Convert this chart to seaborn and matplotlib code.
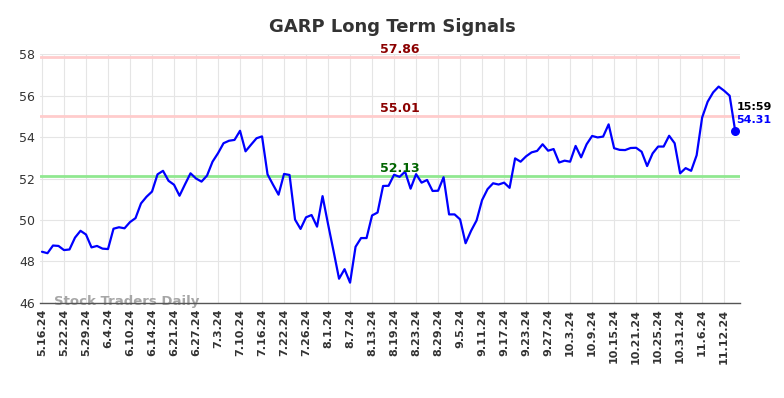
import matplotlib
matplotlib.use("Agg")
import matplotlib.pyplot as plt
import seaborn as sns
import pandas as pd

# daily signal values, 5.16.24 .. 11.14.24 (trading days)
values = [
    48.47, 48.40, 48.77, 48.75, 48.55, 48.58, 49.15, 49.48, 49.30, 48.68,
    48.75, 48.62, 48.60, 49.58, 49.65, 49.60, 49.90, 50.09, 50.80, 51.12,
    51.37, 52.20, 52.37, 51.89, 51.70, 51.17, 51.72, 52.25, 52.00, 51.85,
    52.14, 52.81, 53.22, 53.70, 53.82, 53.86, 54.30, 53.31, 53.63, 53.94,
    54.03, 52.20, 51.70, 51.22, 52.22, 52.17, 50.02, 49.57, 50.13, 50.24,
    49.68, 51.15, 49.80, 48.50, 47.17, 47.63, 46.98, 48.71, 49.13, 49.13,
    50.22, 50.36, 51.64, 51.65, 52.18, 52.08, 52.33, 51.51, 52.21, 51.80,
    51.93, 51.40, 51.41, 52.06, 50.27, 50.27, 50.03, 48.88, 49.48, 49.98,
    50.96, 51.49, 51.77, 51.71, 51.80, 51.55, 52.97, 52.81, 53.07, 53.26,
    53.33, 53.65, 53.34, 53.42, 52.77, 52.86, 52.81, 53.57, 53.02, 53.65,
    54.05, 53.98, 54.02, 54.61, 53.46, 53.38, 53.37, 53.47, 53.48, 53.29,
    52.60, 53.21, 53.54, 53.54, 54.06, 53.70, 52.25, 52.50, 52.37, 53.12,
    54.94, 55.70, 56.15, 56.43, 56.23, 55.99, 54.31,
]

tick_labels = [
    "5.16.24", "5.22.24", "5.29.24", "6.4.24", "6.10.24", "6.14.24", "6.21.24",
    "6.27.24", "7.3.24", "7.10.24", "7.16.24", "7.22.24", "7.26.24", "8.1.24",
    "8.7.24", "8.13.24", "8.19.24", "8.23.24", "8.29.24", "9.5.24", "9.11.24",
    "9.17.24", "9.23.24", "9.27.24", "10.3.24", "10.9.24", "10.15.24",
    "10.21.24", "10.25.24", "10.31.24", "11.6.24", "11.12.24",
]
tick_step = 4

resistance = [57.86, 55.01]
support = [52.13]
last_time = "15:59"

df = pd.DataFrame({"idx": range(len(values)), "value": values})

sns.set_style("whitegrid", {"grid.color": "#e5e5e5"})

fig = plt.figure(figsize=(7.84, 3.98), dpi=100)
ax = fig.add_axes([0.0504, 0.2387, 0.8929, 0.6256])

for lvl in resistance:
    ax.axhline(lvl, color="#ffcccc", linewidth=2, zorder=1)
for lvl in support:
    ax.axhline(lvl, color="#90e890", linewidth=2, zorder=1)

sns.lineplot(data=df, x="idx", y="value", color="blue", linewidth=1.6, ax=ax, zorder=3)

mid = 65
for lvl in resistance:
    ax.text(mid, lvl + 0.05, f"{lvl:.2f}", color="#8b0000", fontsize=9, fontweight="bold",
            ha="center", va="bottom", zorder=4)
for lvl in support:
    ax.text(mid, lvl + 0.05, f"{lvl:.2f}", color="#006400", fontsize=9, fontweight="bold",
            ha="center", va="bottom", zorder=4)

last_i = len(values) - 1
ax.scatter([last_i], [values[-1]], color="blue", s=30, zorder=5, clip_on=False)
ax.annotate(last_time, (last_i, values[-1]), xytext=(1, 17), textcoords="offset points",
            fontsize=8, fontweight="bold", color="black", ha="left", va="center",
            annotation_clip=False)
ax.annotate(f"{values[-1]:.2f}", (last_i, values[-1]), xytext=(1, 7.5), textcoords="offset points",
            fontsize=8, fontweight="bold", color="blue", ha="left", va="center",
            annotation_clip=False)

ax.text(0.02, 0.005, "Stock Traders Daily", transform=ax.transAxes, fontsize=9.5,
        fontweight="bold", color="#a6a6a6", ha="left", va="center", zorder=2)

ax.set_xlim(-0.45, 126.8)
ax.set_ylim(46, 58)
ax.set_yticks(range(46, 59, 2))
ax.set_xticks(range(0, len(tick_labels) * tick_step, tick_step))
ax.set_xticklabels(tick_labels, rotation=90, fontsize=8, fontweight="bold", color="#333333")
ax.tick_params(axis="y", labelsize=9, labelcolor="#333333", length=0, pad=3)
ax.tick_params(axis="x", length=0, pad=4)
ax.set_xlabel("")
ax.set_ylabel("")

for side in ["left", "top", "right"]:
    ax.spines[side].set_visible(False)
ax.spines["bottom"].set_color("#555555")
ax.spines["bottom"].set_linewidth(1)

fig.text(0.5, 1 - 27 / 398, "GARP Long Term Signals", ha="center", va="center",
         fontsize=13, fontweight="bold", color="#333333")

fig.savefig("out.png", dpi=100)
